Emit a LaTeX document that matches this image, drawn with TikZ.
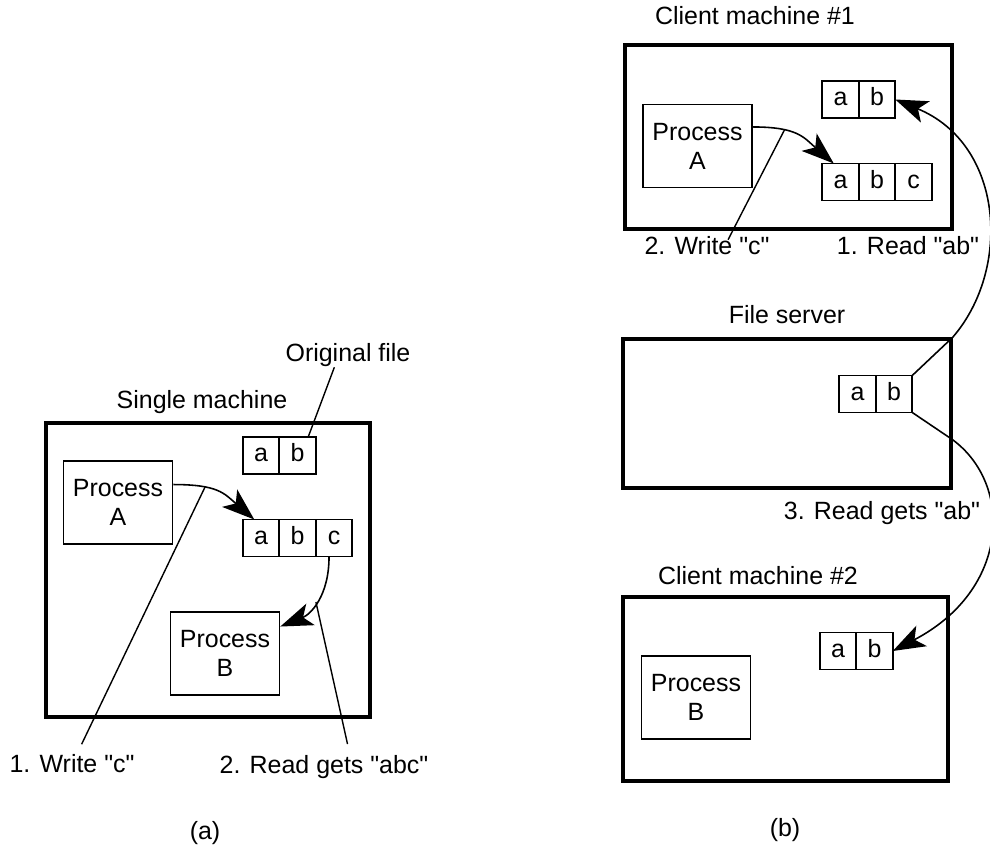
\documentclass[tikz,border=0pt]{standalone}
\usepackage{fontspec}
\setmainfont{Liberation Sans}
\usetikzlibrary{arrows.meta,positioning}

\newcommand{\qq}[1]{\textquotedbl#1\textquotedbl}

\begin{document}
\begin{tikzpicture}[
  x=0.2mm, y=-0.2mm,
  font=\fontsize{14.2}{16.5}\selectfont,
  machine/.style={draw, line width=1.8pt, inner sep=0pt},
  proc/.style={draw, line width=0.9pt, minimum width=2.18cm, minimum height=1.66cm,
               align=center, inner sep=0pt},
  cell/.style={draw, line width=0.9pt, minimum width=0.73cm, minimum height=0.74cm,
               inner sep=0pt, outer sep=0pt, text height=0.72em, text depth=0pt},
  lbl/.style={inner sep=1pt, text height=0.72em, text depth=0.21em},
  arr/.style={-{Stealth[length=6.5mm, width=4.6mm, inset=1.6mm]}, line width=0.9pt},
  lead/.style={line width=0.8pt}]
  \useasboundingbox (0,0) rectangle (990,846);
  % (a) single machine
  \node[machine, minimum width=6.48cm, minimum height=5.88cm] (sm) at (208,570) {};
  \node[lbl] (smt) at (202,404) {Single machine};
  \node[lbl] (lorig) at (348,357) {Original file};
  \node[proc] (pa) at (118,502.5) {Process\\A};
  \node[proc] (pb) at (225,653.5) {Process\\B};
  \node[cell] (oa) at (261,455.5) {a};
  \node[cell, right=0pt of oa] (ob) {b};
  \node[cell] (na) at (261,538) {a};
  \node[cell, right=0pt of na] (nb) {b};
  \node[cell, right=0pt of nb] (nc) {c};
  \node[lbl] (lw1) at (72,768) {1. Write \qq{c}};
  \node[lbl] (lr2) at (324,769) {2. Read gets \qq{abc}};
  \node[lbl] (capa) at (205,835) {(a)};
  \draw[lead] (lorig.217) -- (ob.60);
  \draw[arr] (pa.18) .. controls +(45,0) and +(-30,-26) .. coordinate[pos=0.3] (w1) (na.110);
  \draw[lead, shorten >=3mm] (w1) -- (lw1.73);
  \draw[arr] (nc.255) .. controls +(0,40) and +(30,-12) .. coordinate[pos=0.5] (r2) (pb.26);
  \draw[lead, shorten >=3mm] (r2) -- (lr2.21);
  % (b) client machines and file server
  \node[machine, minimum width=6.54cm, minimum height=3.68cm] (c1) at (788.5,137) {};
  \node[lbl] (c1t) at (755,20) {Client machine \#1};
  \node[proc] (pa2) at (697.5,146) {Process\\A};
  \node[cell] (c1a) at (840.5,99.5) {a};
  \node[cell, right=0pt of c1a] (c1b) {b};
  \node[cell] (c1na) at (840.5,182) {a};
  \node[cell, right=0pt of c1na] (c1nb) {b};
  \node[cell, right=0pt of c1nb] (c1nc) {c};
  \node[lbl] (lw2) at (707,250) {2. Write \qq{c}};
  \node[lbl] (lr1) at (908,250) {1. Read \qq{ab}};
  \node[machine, minimum width=6.56cm, minimum height=2.98cm] (srv) at (787,413.5) {};
  \node[lbl] (srvt) at (787,319) {File server};
  \node[cell] (sa) at (857.5,394) {a};
  \node[cell, right=0pt of sa] (sb) {b};
  \node[lbl] (lr3) at (882,515) {3. Read gets \qq{ab}};
  \node[machine, minimum width=6.5cm, minimum height=3.68cm] (c2) at (785.5,689) {};
  \node[lbl] (c2t) at (758,580) {Client machine \#2};
  \node[proc] (pb2) at (696,697.5) {Process\\B};
  \node[cell] (c2a) at (838,651) {a};
  \node[cell, right=0pt of c2a] (c2b) {b};
  \node[lbl] (capb) at (785,832) {(b)};
  \draw[arr] (pa2.19) .. controls +(45,0) and +(-30,-26) .. coordinate[pos=0.3] (w2) (c1na.110);
  \draw[lead] (w2) -- (lw2.26);
  \draw[arr] (sb.north east) -- (srv.north east)
        .. controls +(59,-68) and +(109,45) .. (c1b.east);
  \draw[arr] (sb.south east) -- (srv.351)
        .. controls +(61,45) and +(117,-61) .. (c2b.east);
\end{tikzpicture}
\end{document}
